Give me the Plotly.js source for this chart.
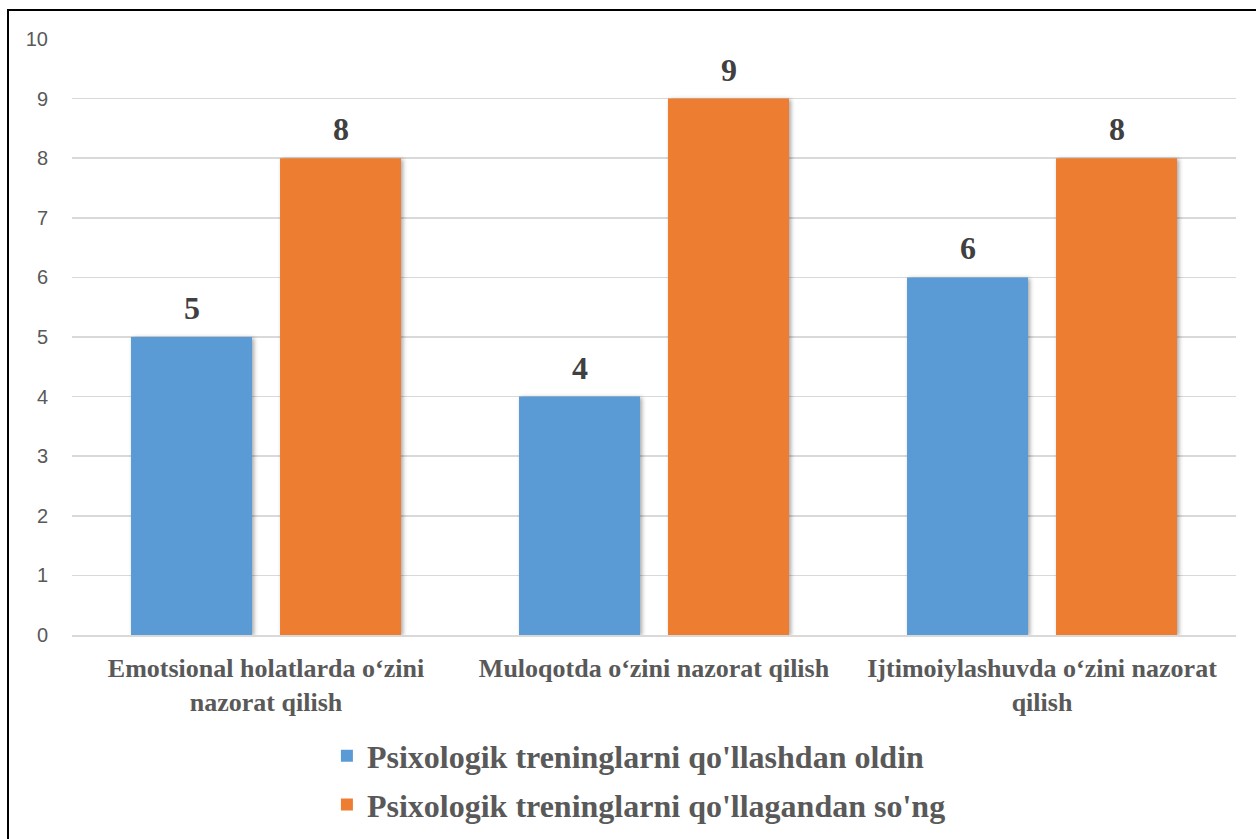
<!DOCTYPE html>
<html>
<head>
<meta charset="utf-8">
<script src="https://cdn.plot.ly/plotly-3.0.1.min.js"></script>
<style>
  html, body { margin: 0; padding: 0; background: #fff; overflow: hidden; }
  #chart { width: 1256px; height: 839px; position: absolute; left: 0; top: 0; }
  #frame { position: absolute; left: 7px; top: 9px; width: 1300px; height: 900px;
           border-top: 2px solid #000; border-left: 2px solid #000; pointer-events: none; z-index: 5; }
  .barlayer .point path { filter: drop-shadow(2px 1px 2px rgba(0,0,0,0.35)); }
</style>
</head>
<body>
<div id="chart"></div>
<div id="frame"></div>
<script>
const categories = [
  "Emotsional holatlarda o\u2018zini<br>nazorat qilish",
  "Muloqotda o\u2018zini nazorat qilish",
  "Ijtimoiylashuvda o\u2018zini nazorat<br>qilish"
];
const seriesNames = [
  "Psixologik treninglarni qo'llashdan oldin",
  "Psixologik treninglarni qo'llagandan so'ng"
];
const beforeValues = [5, 4, 6];
const afterValues = [8, 9, 8];
const yTicks = [0, 1, 2, 3, 4, 5, 6, 7, 8, 9, 10];

const colors = ["#5B9BD5", "#ED7D31"];
const serif = "'Liberation Serif', 'Times New Roman', serif";

const traces = [beforeValues, afterValues].map((vals, i) => ({
  type: "bar",
  name: seriesNames[i],
  x: categories,
  y: vals,
  marker: { color: colors[i], line: { width: 0 } },
  legendgroup: "g" + i,
  hoverinfo: "none"
}));

const shifts = [-74.5, 74.5];
const annotations = [];
[beforeValues, afterValues].forEach((vals, i) => {
  vals.forEach((v, j) => {
    annotations.push({
      x: categories[j], y: v, xref: "x", yref: "y",
      text: String(v), showarrow: false,
      xshift: shifts[i], yshift: 29,
      font: { family: serif, size: 32, color: "#404040", weight: "bold" }
    });
  });
});

const layout = {
  width: 1256, height: 839,
  margin: { l: 72, r: 20, t: 39, b: 204, autoexpand: false },
  paper_bgcolor: "#fff", plot_bgcolor: "#fff",
  barmode: "group",
  bargap: 0.232,
  bargroupgap: 0.188,
  showlegend: true,
  legend: {
    orientation: "v",
    x: 0.219, xanchor: "left",
    y: -0.157, yanchor: "top",
    traceorder: "grouped",
    tracegroupgap: 4,
    font: { family: serif, size: 32, color: "#595959", weight: "bold" },
    itemclick: false, itemdoubleclick: false
  },
  xaxis: {
    type: "category",
    showgrid: false,
    showline: true, linecolor: "#d9d9d9", linewidth: 1.5,
    ticks: "", ticklabelstandoff: 9,
    tickfont: { family: serif, size: 26, color: "#595959", weight: "bold" },
    fixedrange: true
  },
  yaxis: {
    range: [0, 10],
    tickvals: yTicks,
    ticktext: yTicks.map(String),
    showgrid: true, gridcolor: "#d9d9d9", gridwidth: 1.5,
    zeroline: false, showline: false,
    ticks: "", ticklabelstandoff: 23,
    tickfont: { family: "'Liberation Sans', Arial, sans-serif", size: 20, color: "#595959" },
    fixedrange: true
  },
  annotations: annotations
};

Plotly.newPlot("chart", traces, layout, { displayModeBar: false, staticPlot: true });
</script>
</body>
</html>
